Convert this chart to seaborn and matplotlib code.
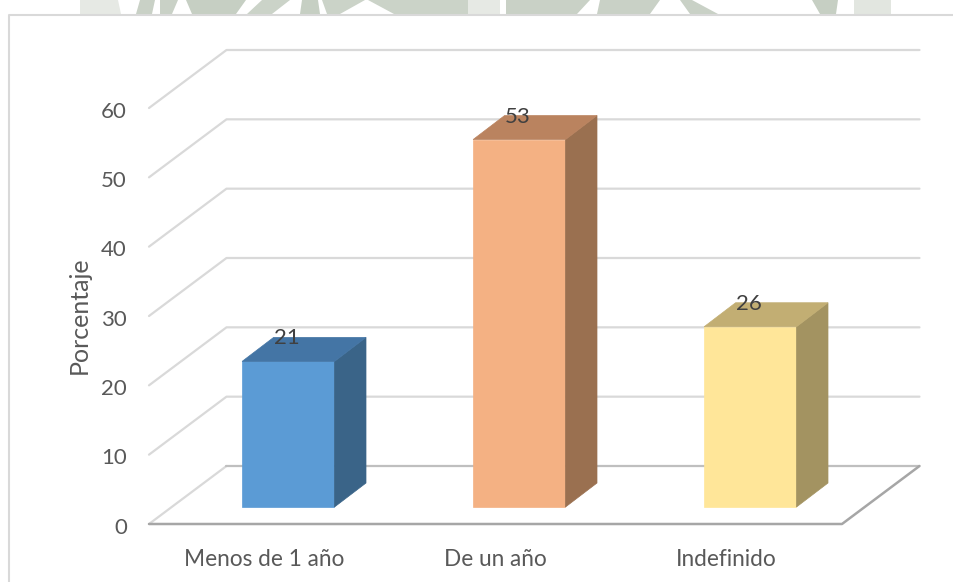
import matplotlib
matplotlib.use("Agg")
import matplotlib.pyplot as plt
from matplotlib.patches import Polygon
from matplotlib.lines import Line2D
from matplotlib.transforms import ScaledTranslation
import seaborn as sns
import pandas as pd

categories = ["Menos de 1 año", "De un año", "Indefinido"]
values = [21, 53, 26]
y_ticks = [0, 10, 20, 30, 40, 50, 60]
y_title = "Porcentaje"

front_colors = ["#5B9BD5", "#F4B183", "#FFE699"]
side_colors = ["#3A6488", "#9A7050", "#A39361"]
top_colors = ["#4475A5", "#BA835F", "#C2AE73"]

W, H = 954, 582
sns.set_theme(style="white")
plt.rcParams["font.family"] = ["Lato", "DejaVu Sans"]
fig = plt.figure(figsize=(W / 100, H / 100), dpi=100, facecolor="white")

# watermark remnants and chart frame, in figure pixels
def fx(x): return x / W
def fy(y): return 1 - y / H
wm = [
    ([80, 118, 121, 80], "#E6E9E4"), ([140, 155, 152, 136], "#C9D1C6"),
    ([160, 178, 172, 160], "#C9D1C6"), ([186, 246, 236, 192], "#C6CFC3"),
    ([262, 290, 272, 247], "#CBD3C8"), ([302, 318, 320, 300], "#C6CFC3"),
    ([322, 365, 340, 327], "#CBD3C8"), ([368, 468, 468, 394], "#CBD3C8"),
    ([468, 500, 500, 468], "#E6E9E4"), ([506, 590, 577, 506], "#C9D1C6"),
    ([600, 660, 650, 597], "#C9D1C6"), ([680, 692, 718, 690], "#C9D1C6"),
    ([812, 838, 836, 820], "#C6CFC3"), ([854, 891, 891, 854], "#E2E6E0"),
]
for xs, c in wm:
    fig.patches.append(Polygon([(fx(xs[0]), fy(0)), (fx(xs[1]), fy(0)),
                                (fx(xs[2]), fy(14)), (fx(xs[3]), fy(14))],
                               transform=fig.transFigure, fc=c, ec="none"))
fig.add_artist(Line2D([fx(9.5), fx(9.5), fx(954)], [fy(582), fy(14.5), fy(14.5)],
                      color="#D9D9D9", lw=1.5))

# front plane of the plot box
L, R, B, T = 149, 842, 524, 108
ax = fig.add_axes([fx(L), fy(B), (R - L) / W, (B - T) / H])
ax.patch.set_alpha(0)

df = pd.DataFrame({"cat": categories, "val": values})
sns.barplot(data=df, x="cat", y="val", hue="cat", palette=front_colors,
            width=0.4, legend=False, dodge=False, ax=ax, saturation=1, zorder=3)
ax.set_xlim(-0.5, len(categories) - 0.5)
ax.set_ylim(y_ticks[0], y_ticks[-1])

px_x = len(categories) / (R - L)   # data units per pixel
px_y = (y_ticks[-1] - y_ticks[0]) / (B - T)
wall_dx, wall_dy = 77.5 * px_x, 58 * px_y
bar_dx, bar_dy = 23.8 * px_x, 17 * px_y
deep_dx, deep_dy = 31.5 * px_x, 24 * px_y

# back wall and floor
x0, x1 = ax.get_xlim()
for t in y_ticks[1:]:
    ax.plot([x0, x0 + wall_dx, x1 + wall_dx], [t, t + wall_dy, t + wall_dy],
            color="#D9D9D9", lw=1.6, clip_on=False, zorder=1, solid_capstyle="round")
ax.plot([x0, x0 + wall_dx], [0, wall_dy], color="#D9D9D9", lw=1.6, clip_on=False, zorder=1)
ax.plot([x0 + wall_dx, x1 + wall_dx], [wall_dy, wall_dy], color="#BFBFBF", lw=1.6, clip_on=False, zorder=1)
ax.plot([x0, x1, x1 + wall_dx], [0, 0, wall_dy], color="#A6A6A6", lw=1.8, clip_on=False, zorder=2)

# solid faces of the bars
for p, v, sc, tc, fc in zip(ax.patches, values, side_colors, top_colors, front_colors):
    p.set_x(p.get_x() + bar_dx)
    p.set_y(bar_dy)
    p.set_edgecolor(fc)
    p.set_linewidth(0.5)
    xa, xb = p.get_x(), p.get_x() + p.get_width()
    ya, yb = p.get_y(), p.get_y() + p.get_height()
    ax.add_patch(Polygon([(xb, ya), (xb + deep_dx, ya + deep_dy), (xb + deep_dx, yb + deep_dy), (xb, yb)],
                         fc=sc, ec=sc, lw=0.5, zorder=3, clip_on=False))
    ax.add_patch(Polygon([(xa, yb), (xb, yb), (xb + deep_dx, yb + deep_dy), (xa + deep_dx, yb + deep_dy)],
                         fc=tc, ec=tc, lw=0.5, zorder=3, clip_on=False))
    ax.text((xa + xb) / 2 - 1.5 * px_x, yb + 23 * px_y, str(v), ha="center", va="center",
            fontsize=16, color="#404040", zorder=5)

sns.despine(ax=ax, left=True, bottom=True)
ax.set_yticks(y_ticks)
ax.set_xlabel("")
ax.set_ylabel(y_title, fontsize=18, color="#595959", labelpad=0)
ax.yaxis.set_label_coords((91 - L) / (R - L), (B - 315) / (B - T))
ax.tick_params(axis="y", length=0, pad=16, labelsize=16, labelcolor="#595959")
ax.tick_params(axis="x", length=0, pad=18, labelsize=16.3, labelcolor="#595959")
ax.grid(False)
shift = ScaledTranslation(0, -1.5 / 100, fig.dpi_scale_trans)
for lab in ax.get_yticklabels():
    lab.set_transform(lab.get_transform() + shift)

fig.savefig("out.png", dpi=100)
